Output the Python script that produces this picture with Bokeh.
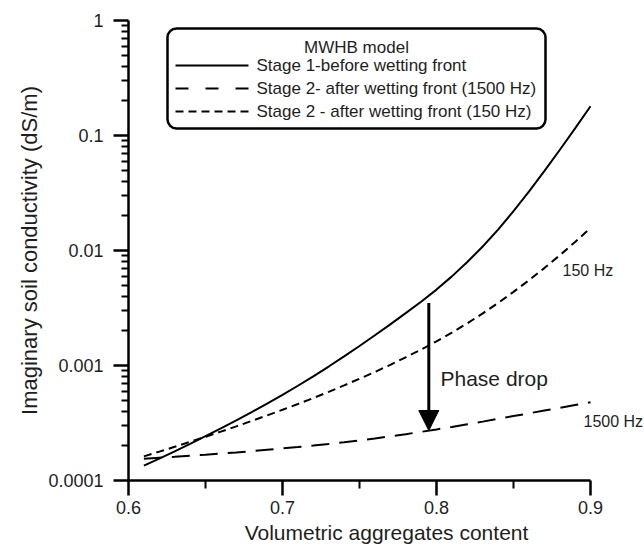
from bokeh.plotting import figure
from bokeh.models import (FixedTicker, CustomJSTickFormatter, BoxAnnotation, Label,
                          Arrow, NormalHead, Range1d)
from bokeh.embed import file_html
from bokeh.resources import INLINE

# ---- data ----
aggregates = [0.61, 0.62, 0.63, 0.64, 0.65, 0.66, 0.67, 0.68, 0.69, 0.70,
              0.71, 0.72, 0.73, 0.74, 0.75, 0.76, 0.77, 0.78, 0.79, 0.80,
              0.81, 0.82, 0.83, 0.84, 0.85, 0.86, 0.87, 0.88, 0.89, 0.90]
stage1_before = [1.349e-4, 1.552e-4, 1.795e-4, 2.084e-4, 2.427e-4, 2.838e-4, 3.334e-4,
                 3.936e-4, 4.667e-4, 5.559e-4, 6.668e-4, 8.054e-4, 9.795e-4, 1.199e-3,
                 1.479e-3, 1.832e-3, 2.280e-3, 2.851e-3, 3.589e-3, 4.571e-3, 5.957e-3,
                 7.943e-3, 1.084e-2, 1.521e-2, 2.198e-2, 3.251e-2, 4.898e-2, 7.482e-2,
                 0.1153, 0.1795]
stage2_1500hz = [1.549e-4, 1.578e-4, 1.607e-4, 1.641e-4, 1.675e-4, 1.714e-4, 1.754e-4,
                 1.799e-4, 1.849e-4, 1.901e-4, 1.954e-4, 2.014e-4, 2.080e-4, 2.153e-4,
                 2.234e-4, 2.323e-4, 2.421e-4, 2.529e-4, 2.649e-4, 2.780e-4, 2.924e-4,
                 3.083e-4, 3.251e-4, 3.436e-4, 3.631e-4, 3.837e-4, 4.055e-4, 4.285e-4,
                 4.529e-4, 4.786e-4]
stage2_150hz = [1.622e-4, 1.782e-4, 1.963e-4, 2.168e-4, 2.399e-4, 2.661e-4, 2.958e-4,
                3.296e-4, 3.681e-4, 4.121e-4, 4.624e-4, 5.212e-4, 5.902e-4, 6.714e-4,
                7.674e-4, 8.790e-4, 1.014e-3, 1.178e-3, 1.377e-3, 1.622e-3, 1.932e-3,
                2.328e-3, 2.838e-3, 3.499e-3, 4.365e-3, 5.508e-3, 7.031e-3, 9.078e-3,
                1.186e-2, 1.567e-2]
x_ticks = [0.6, 0.7, 0.8, 0.9]
x_minor = [0.65, 0.75, 0.85]
y_ticks = [1e-4, 1e-3, 1e-2, 1e-1, 1.0]
legend_title = "MWHB model"
series_names = ["Stage 1-before wetting front",
                "Stage 2- after wetting front (1500 Hz)",
                "Stage 2 - after wetting front (150 Hz)"]
arrow_x = 0.795
arrow_from = 3.5e-3
arrow_to = 2.72e-4

FONT = "Liberation Sans"
TXT = "#1e1e1e"

# layout helpers (pixel -> data) for annotation placement
X0, XPX = 0.6, 1540.0
def dx(px):
    return X0 + (px - 128) / XPX
def dy(py):
    return 10 ** (-4 + (480 - py) / 115.0)

p = figure(width=644, height=548, output_backend="svg", toolbar_location=None,
           y_axis_type="log",
           x_range=Range1d(0.6, dx(644)), y_range=Range1d(1e-4, 1.0),
           min_border_left=128, min_border_right=0, min_border_top=20,
           min_border_bottom=68)
p.outline_line_color = None
p.xgrid.visible = False
p.ygrid.visible = False
p.background_fill_color = "white"
p.border_fill_color = "white"

# axes
xa = p.xaxis[0]
xa.ticker = FixedTicker(ticks=x_ticks, minor_ticks=x_minor)
xa.bounds = (0.6, 0.9)
xa.axis_label = "Volumetric aggregates content"
ya = p.yaxis[0]
minors = [k * 10 ** e for e in range(-4, 0) for k in range(2, 10)]
ya.ticker = FixedTicker(ticks=y_ticks, minor_ticks=minors)
ya.formatter = CustomJSTickFormatter(code="""
const e = Math.round(Math.log10(tick));
return e >= 0 ? tick.toFixed(0) : tick.toFixed(-e);
""")
ya.axis_label = "Imaginary soil conductivity (dS/m)"
for ax in (xa, ya):
    ax.axis_line_width = 2.5
    ax.axis_line_color = "black"
    ax.axis_line_alpha = 1.0
    ax.major_tick_line_color = "black"
    ax.minor_tick_line_color = "black"
    ax.major_tick_line_alpha = 1.0
    ax.minor_tick_line_alpha = 1.0
    ax.major_tick_line_width = 2.5
    ax.minor_tick_line_width = 2
    ax.major_tick_in = 0
    ax.major_tick_out = 15
    ax.minor_tick_in = 0
    ax.minor_tick_out = 8
    ax.major_label_text_font = FONT
    ax.major_label_text_font_size = "18px"
    ax.major_label_text_color = TXT
    ax.axis_label_text_font = FONT
    ax.axis_label_text_font_style = "normal"
    ax.axis_label_text_color = TXT
xa.axis_label_text_font_size = "21px"
ya.axis_label_text_font_size = "22px"
ya.minor_tick_out = 7
xa.major_label_standoff = 5
xa.axis_label_standoff = 4
ya.major_label_standoff = 10
ya.axis_label_standoff = 3

# curves
p.line(aggregates, stage1_before, line_color="black", line_width=2)
p.line(aggregates, stage2_1500hz, line_color="black", line_width=2, line_dash="18 10")
p.line(aggregates, stage2_150hz, line_color="black", line_width=2, line_dash="8 5")

# arrow
p.add_layout(Arrow(end=NormalHead(size=20, fill_color="black", line_color="black"),
                   x_start=arrow_x, y_start=arrow_from, x_end=arrow_x, y_end=arrow_to,
                   line_width=3, line_color="black"))

def label(txt, px, py, size, align="left"):
    p.add_layout(Label(x=dx(px), y=dy(py), text=txt, text_font=FONT,
                       text_font_size=size, text_color=TXT, text_align=align,
                       text_baseline="middle"))

label("Phase drop", 440, 378, "21px")
label("150 Hz", 562, 270, "16px")
label("1500 Hz", 583, 421, "16px")

# legend box
p.add_layout(BoxAnnotation(left=dx(167), right=dx(545), top=dy(28), bottom=dy(128),
                           fill_color="white", fill_alpha=1.0, line_color="black",
                           line_alpha=1.0, line_width=2.5, border_radius=9,
                           level="underlay"))
label(legend_title, 356, 47, "17px", align="center")
rows = [65, 88, 111]
dashes = ["solid", "13 17", "8 5"]
for name, ry, dsh in zip(series_names, rows, dashes):
    p.line([dx(175), dx(248)], [dy(ry), dy(ry)], line_color="black", line_width=2,
           line_dash=dsh)
    label(name, 256, ry, "17px")

open("out.html", "w").write(file_html(p, INLINE))
